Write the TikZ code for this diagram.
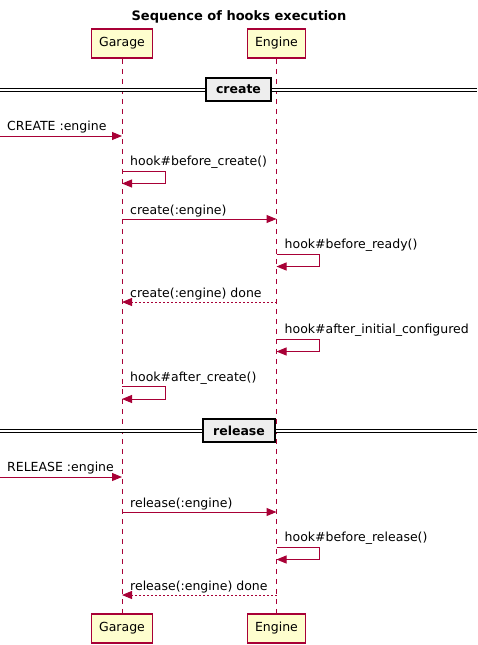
\documentclass[tikz,border=0pt]{standalone}
\usepackage{fontspec}
\setmainfont{DejaVu Sans}
\usetikzlibrary{arrows.meta}
\definecolor{umlred}{HTML}{A80036}
\definecolor{umlfill}{HTML}{FEFECE}
\definecolor{umlgrey}{HTML}{EEEEEE}
\newcommand{\umlfont}{\fontsize{12.5}{15}\selectfont}
\tikzset{
  actor/.style = {
    draw=umlred, fill=umlfill, line width=1.5pt,
    minimum height=29pt, inner xsep=7.5pt, inner ysep=0pt,
    font=\umlfont
  },
  lifeline/.style = {draw=umlred, line width=1pt, dash pattern=on 5pt off 5pt},
  msg/.style = {draw=umlred, line width=1pt, -{Triangle[length=10pt,width=8pt]}},
  reply/.style = {msg, dash pattern=on 2pt off 2pt},
  msgtext/.style = {anchor=base west, inner sep=0pt, font=\umlfont},
  sepline/.style = {draw=black, line width=1pt, double, double distance=2pt},
  divider/.style = {
    draw=black, fill=umlgrey, line width=2pt,
    minimum height=23pt, inner xsep=10.5pt, inner ysep=0pt,
    font=\bfseries\umlfont
  }
}

\begin{document}
\begin{tikzpicture}[x=1pt,y=-1pt]
  \useasboundingbox (0,0) rectangle (477,645);
  %
  \node[anchor=base,font=\bfseries\fontsize{13}{16}\selectfont] (title) at (239,20) {Sequence of hooks execution};
  %
  \node[actor] (gtop) at (122,43.5) {Garage};
  \node[actor] (etop) at (276.5,43.5) {Engine};
  \node[actor] (gbot) at (122,628.5) {Garage};
  \node[actor] (ebot) at (276.5,628.5) {Engine};
  \draw[lifeline] (gtop.south) -- (gbot.north);
  \draw[lifeline] (etop.south) -- (ebot.north);
  %
  \coordinate (sep1l) at (0,89.5);
  \coordinate (sep1r) at (477,89.5);
  \draw[sepline] (sep1l) -- (sep1r);
  \node[divider] (dcreate) at (238.5,89.5) {create};
  %
  \coordinate (r1) at (0,136);
  \coordinate (r2) at (0,171);
  \coordinate (r3) at (0,219);
  \coordinate (r4) at (0,254);
  \coordinate (r5) at (0,302);
  \coordinate (r6) at (0,339);
  \coordinate (r7) at (0,386.5);
  %
  \draw[msg] (r1) -- (r1 -| gtop);
  \node[msgtext] (t1) at (r1) [xshift=7pt,yshift=5.5pt] {CREATE :engine};
  %
  \draw[msg] (r2 -| gtop) -- ++(43,0) -- ++(0,12.5) -- ++(-43,0);
  \node[msgtext] (t2) at (r2 -| gtop) [xshift=8pt,yshift=5.5pt] {hook\#before\_create()};
  %
  \draw[msg] (r3 -| gtop) -- (r3 -| etop);
  \node[msgtext] (t3) at (r3 -| gtop) [xshift=8pt,yshift=5pt] {create(:engine)};
  %
  \draw[msg] (r4 -| etop) -- ++(43,0) -- ++(0,12.5) -- ++(-43,0);
  \node[msgtext] (t4) at (r4 -| etop) [xshift=8pt,yshift=5.5pt] {hook\#before\_ready()};
  %
  \draw[reply] (r5 -| etop) -- (r5 -| gtop);
  \node[msgtext] (t5) at (r5 -| gtop) [xshift=8pt,yshift=5pt] {create(:engine) done};
  %
  \draw[msg] (r6 -| etop) -- ++(43,0) -- ++(0,12.5) -- ++(-43,0);
  \node[msgtext] (t6) at (r6 -| etop) [xshift=8pt,yshift=5.5pt] {hook\#after\_initial\_configured};
  %
  \draw[msg] (r7 -| gtop) -- ++(43,0) -- ++(0,12.5) -- ++(-43,0);
  \node[msgtext] (t7) at (r7 -| gtop) [xshift=8pt,yshift=5.5pt] {hook\#after\_create()};
  %
  \coordinate (sep2l) at (0,430.5);
  \coordinate (sep2r) at (477,430.5);
  \draw[sepline] (sep2l) -- (sep2r);
  \node[divider] (drelease) at (239,430.5) {release};
  %
  \coordinate (r8) at (0,477);
  \coordinate (r9) at (0,512);
  \coordinate (r10) at (0,547);
  \coordinate (r11) at (0,595);
  %
  \draw[msg] (r8) -- (r8 -| gtop);
  \node[msgtext] (t8) at (r8) [xshift=7pt,yshift=5.5pt] {RELEASE :engine};
  %
  \draw[msg] (r9 -| gtop) -- (r9 -| etop);
  \node[msgtext] (t9) at (r9 -| gtop) [xshift=8pt,yshift=5pt] {release(:engine)};
  %
  \draw[msg] (r10 -| etop) -- ++(43,0) -- ++(0,12.5) -- ++(-43,0);
  \node[msgtext] (t10) at (r10 -| etop) [xshift=8pt,yshift=5.5pt] {hook\#before\_release()};
  %
  \draw[reply] (r11 -| etop) -- (r11 -| gtop);
  \node[msgtext] (t11) at (r11 -| gtop) [xshift=8pt,yshift=5pt] {release(:engine) done};
\end{tikzpicture}
\end{document}
